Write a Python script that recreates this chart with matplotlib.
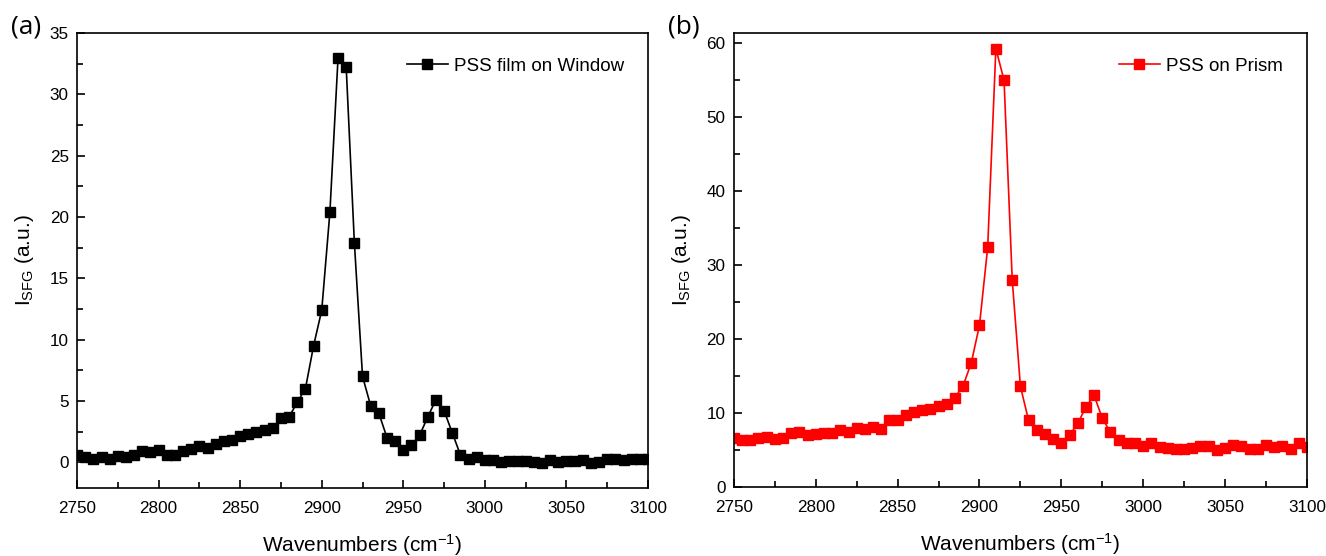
import matplotlib
matplotlib.use('Agg')
import matplotlib.pyplot as plt
from matplotlib.ticker import MultipleLocator

plt.rcParams['font.family'] = ['Liberation Sans', 'DejaVu Sans']
plt.rcParams['mathtext.default'] = 'regular'

# wavenumbers, step 5 cm-1
wavenumbers = list(range(2750, 3101, 5))

# PSS film on Window
pss_window = [0.6, 0.4, 0.3, 0.4, 0.3, 0.5, 0.4, 0.6, 0.9, 0.8,
              1.0, 0.6, 0.6, 0.9, 1.1, 1.3, 1.2, 1.5, 1.7, 1.8,
              2.1, 2.3, 2.5, 2.6, 2.8, 3.6, 3.7, 4.9, 6.0, 9.5,
              12.4, 20.4, 33.0, 32.2, 17.9, 7.0, 4.6, 4.0, 2.0, 1.7,
              1.0, 1.4, 2.2, 3.7, 5.1, 4.2, 2.4, 0.6, 0.3, 0.4,
              0.2, 0.2, 0.0, 0.1, 0.1, 0.1, 0.0, -0.1, 0.2, 0.0,
              0.1, 0.1, 0.2, -0.1, 0.0, 0.3, 0.3, 0.2, 0.3, 0.3, 0.3]

# PSS on Prism
pss_prism = [6.6, 6.4, 6.4, 6.6, 6.8, 6.5, 6.6, 7.3, 7.4, 7.0,
             7.2, 7.3, 7.3, 7.7, 7.4, 8.0, 7.8, 8.1, 7.8, 9.1,
             9.1, 9.7, 10.2, 10.4, 10.6, 10.9, 11.2, 12.1, 13.7, 16.8,
             21.9, 32.4, 59.3, 55.0, 28.0, 13.6, 9.0, 7.7, 7.2, 6.5,
             6.0, 7.0, 8.6, 10.8, 12.4, 9.3, 7.4, 6.3, 5.9, 6.0,
             5.5, 5.9, 5.4, 5.3, 5.1, 5.2, 5.3, 5.6, 5.5, 5.0,
             5.3, 5.7, 5.6, 5.1, 5.2, 5.7, 5.4, 5.5, 5.1, 6.0, 5.4]

fig = plt.figure(figsize=(13.26, 5.56), dpi=100)
ax1 = fig.add_axes([0.0581, 0.1223, 0.4306, 0.8183])
ax2 = fig.add_axes([0.5535, 0.1241, 0.4321, 0.8165])

ax1.plot(wavenumbers, pss_window, color='black', marker='s', markersize=7,
         linewidth=1.2, label='PSS film on Window')
ax2.plot(wavenumbers, pss_prism, color='red', marker='s', markersize=7,
         linewidth=1.2, label='PSS on Prism')

ax1.set_ylim(-2.1, 35)
ax1.yaxis.set_major_locator(MultipleLocator(5))
ax1.yaxis.set_minor_locator(MultipleLocator(2.5))
ax2.set_ylim(0, 61.4)
ax2.yaxis.set_major_locator(MultipleLocator(10))
ax2.yaxis.set_minor_locator(MultipleLocator(5))

for ax, tag in [(ax1, '(a)'), (ax2, '(b)')]:
    ax.set_xlim(2750, 3100)
    ax.xaxis.set_major_locator(MultipleLocator(50))
    ax.xaxis.set_minor_locator(MultipleLocator(25))
    ax.tick_params(which='both', direction='in', top=False, right=False,
                   labelsize=12.3, width=1.2)
    ax.tick_params(which='major', length=6)
    ax.tick_params(which='minor', length=4)
    ax.tick_params(axis='x', which='both', pad=9)
    ax.tick_params(axis='y', which='both', pad=6)
    for s in ax.spines.values():
        s.set_linewidth(1.2)
    ax.set_xlabel('Wavenumbers (cm$^{-1}$)', fontsize=15, labelpad=12)
    ax.set_ylabel('I$_{SFG}$ (a.u.)', fontsize=15, labelpad=10)
    ax.legend(loc='upper right', frameon=False, fontsize=13.5,
              handlelength=2.2, handletextpad=0.3, borderaxespad=0.9)
    ax.text(-0.115, 1.013, tag, transform=ax.transAxes, fontsize=19,
            family=['Open Sans', 'DejaVu Sans'], ha='left', va='center')

fig.savefig('out.png', dpi=100)
